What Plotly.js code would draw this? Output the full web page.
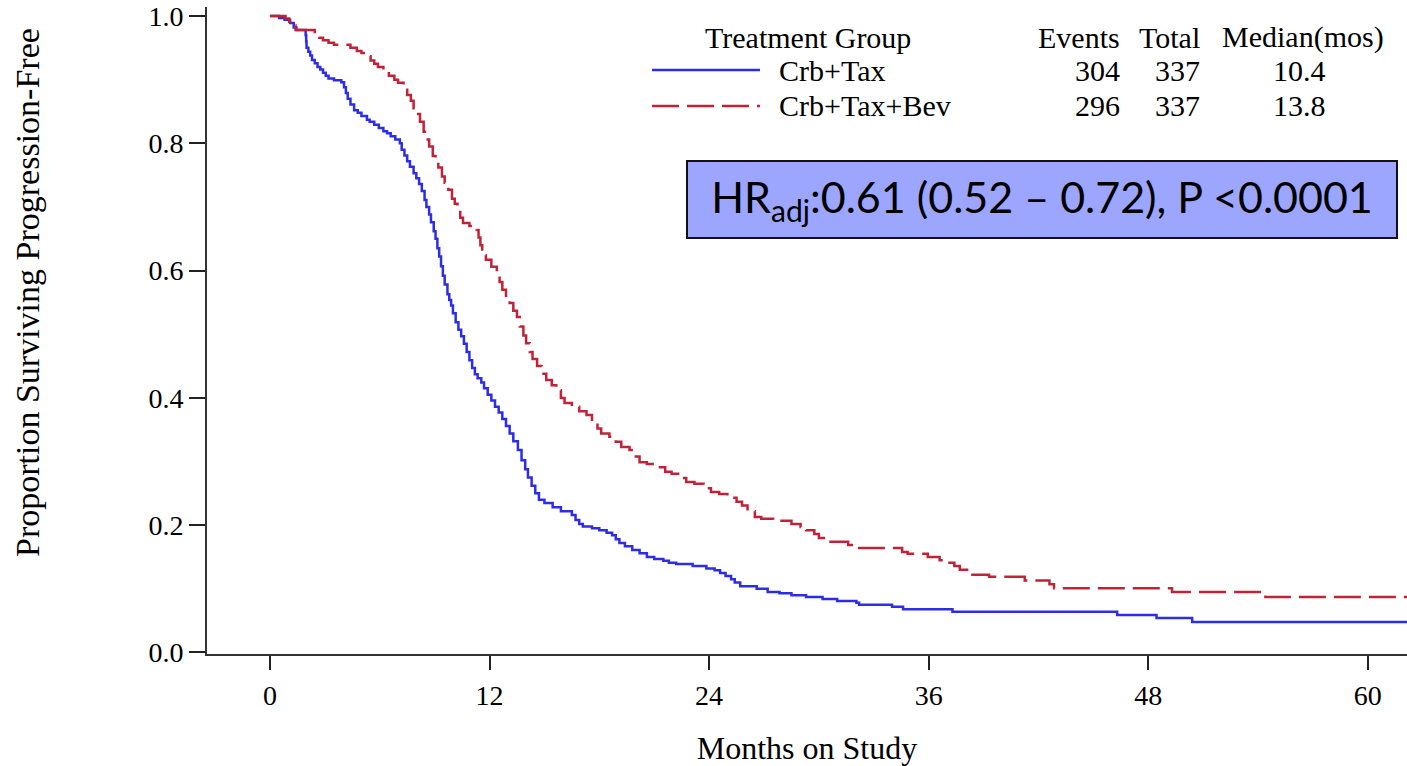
<!DOCTYPE html>
<html>
<head>
<meta charset="utf-8">
<script src="https://cdn.plot.ly/plotly-3.0.1.min.js"></script>
<style>html,body{margin:0;padding:0;background:#fff;}#chart{width:1407px;height:766px;}</style>
</head>
<body>
<div id="chart"></div>
<script>
// ---- Data ----
const groupNames = ["Crb+Tax", "Crb+Tax+Bev"];
const events = [304, 296];
const totals = [337, 337];
const medians = ["10.4", "13.8"];
const hrText = "HR<sub>adj</sub>:0.61 (0.52 \u2013 0.72), P <0.0001";
const xTitle = "Months on Study";
const yTitle = "Proportion Surviving Progression-Free";

const xTicks = [0, 12, 24, 36, 48, 60];
const yTicks = [0.0, 0.2, 0.4, 0.6, 0.8, 1.0];
const yTickLabels = ["0.0", "0.2", "0.4", "0.6", "0.8", "1.0"];

const tBlue = [0,0.5,0.8,1.1,1.3,1.45,1.95,1.98,2.0,2.1,2.2,2.3,2.45,2.6,2.75,2.9,3.05,3.2,3.5,3.9,4.05,4.15,4.25,4.4,4.6,4.8,5.0,5.3,5.45,5.7,5.95,6.2,6.4,6.6,6.85,7.1,7.2,7.35,7.5,7.65,7.85,8.0,8.15,8.3,8.45,8.55,8.7,8.8,8.95,9.05,9.15,9.25,9.35,9.45,9.55,9.7,9.8,9.9,10.0,10.15,10.3,10.45,10.6,10.75,10.9,11.05,11.2,11.35,11.55,11.7,11.9,12.1,12.3,12.5,12.7,12.9,13.1,13.3,13.55,13.75,13.95,14.1,14.3,14.5,14.7,15.0,15.45,15.9,16.5,16.7,16.9,17.1,17.6,18.0,18.4,18.7,18.9,19.1,19.4,19.8,20.2,20.6,21.0,21.5,21.8,22.2,23.1,23.85,24.3,24.6,24.9,25.2,25.4,25.7,26.6,27.2,27.85,28.5,29.3,30.2,31.0,32.05,32.2,34.0,34.6,37.3,46.3,48.45,50.4,63];
const sBlue = [1.0,0.997,0.994,0.989,0.982,0.978,0.970,0.960,0.950,0.944,0.938,0.931,0.926,0.920,0.916,0.911,0.906,0.902,0.899,0.896,0.888,0.879,0.870,0.861,0.852,0.848,0.843,0.837,0.834,0.829,0.824,0.819,0.816,0.811,0.806,0.800,0.790,0.781,0.772,0.763,0.753,0.745,0.736,0.725,0.711,0.700,0.688,0.676,0.662,0.650,0.635,0.622,0.607,0.592,0.578,0.563,0.554,0.545,0.533,0.519,0.507,0.497,0.485,0.472,0.459,0.447,0.437,0.431,0.424,0.415,0.405,0.396,0.386,0.377,0.367,0.356,0.344,0.332,0.318,0.302,0.288,0.275,0.262,0.250,0.240,0.235,0.228,0.222,0.216,0.208,0.202,0.198,0.195,0.192,0.188,0.184,0.178,0.172,0.167,0.161,0.156,0.150,0.147,0.144,0.141,0.139,0.136,0.132,0.129,0.125,0.120,0.115,0.110,0.104,0.100,0.095,0.093,0.090,0.087,0.084,0.081,0.078,0.075,0.072,0.068,0.064,0.059,0.054,0.048,0.048];

const tRed = [0,0.85,1.05,1.2,1.4,2.45,2.7,2.9,3.2,3.5,4.4,4.75,5.0,5.35,5.5,5.7,5.9,6.2,6.5,6.8,7.0,7.3,7.5,7.7,7.85,8.0,8.2,8.4,8.55,8.7,8.9,9.05,9.2,9.4,9.55,9.75,9.95,10.1,10.25,10.4,10.55,10.9,11.3,11.4,11.5,11.6,11.8,12.1,12.4,12.55,12.7,12.9,13.1,13.3,13.5,13.65,13.85,14.0,14.2,14.35,14.6,14.85,15.1,15.4,15.65,15.9,16.1,16.5,16.9,17.3,17.6,17.9,18.1,18.55,18.9,19.2,19.65,19.9,20.2,20.6,21.1,21.6,21.95,22.4,22.75,23.2,23.7,24.1,24.55,25.0,25.5,25.8,26.1,26.5,26.85,27.5,28.5,29.0,29.3,29.75,30.0,30.4,31.6,32.0,34.55,34.85,35.95,36.6,37.0,37.4,37.7,38.1,39.3,41.25,42.6,42.85,49.3,54.4,63];
const sRed = [1.0,0.996,0.991,0.985,0.978,0.972,0.966,0.962,0.958,0.955,0.950,0.945,0.942,0.937,0.930,0.925,0.920,0.913,0.906,0.900,0.895,0.884,0.876,0.867,0.855,0.846,0.834,0.818,0.806,0.795,0.780,0.772,0.762,0.748,0.738,0.727,0.713,0.705,0.695,0.683,0.675,0.670,0.664,0.652,0.640,0.624,0.617,0.606,0.593,0.582,0.570,0.556,0.549,0.537,0.527,0.512,0.498,0.486,0.472,0.461,0.450,0.438,0.428,0.420,0.412,0.400,0.392,0.386,0.379,0.373,0.362,0.352,0.344,0.339,0.331,0.323,0.318,0.308,0.299,0.296,0.291,0.284,0.281,0.274,0.268,0.265,0.258,0.252,0.249,0.243,0.237,0.231,0.222,0.213,0.210,0.207,0.202,0.197,0.192,0.186,0.180,0.174,0.169,0.164,0.158,0.155,0.150,0.145,0.141,0.136,0.130,0.122,0.119,0.113,0.107,0.101,0.095,0.087,0.087];

// ---- Styles ----
const blue = "rgb(45,45,230)";
const red = "rgb(192,35,55)";
const redDash = "27px,8px";
const serif = "Liberation Serif, Times New Roman, serif";

// ---- Layout geometry (pixels) ----
const W = 1407, H = 766;
const M = {l: 207, r: 0, t: 7, b: 112};
const PW = W - M.l - M.r, PH = H - M.t - M.b;
const px = X => (X - M.l) / PW;
const py = Y => (H - M.b - Y) / PH;

const traces = [
  {x: tBlue, y: sBlue, type: "scatter", mode: "lines", name: groupNames[0],
   line: {shape: "hv", color: blue, width: 2.5}, showlegend: false, hoverinfo: "x+y"},
  {x: tRed, y: sRed, type: "scatter", mode: "lines", name: groupNames[1],
   line: {shape: "hv", color: red, width: 2.5, dash: redDash}, showlegend: false, hoverinfo: "x+y"}
];

const legFont = {family: serif, size: 30, color: "#000"};
const rowsY = [70, 106];
const annotations = [
  {text: "Treatment Group", x: px(808), y: py(37), xanchor: "center"},
  {text: "Events", x: px(1122), y: py(37), xanchor: "right"},
  {text: "Total", x: px(1202), y: py(37), xanchor: "right"},
  {text: "Median(mos)", x: px(1303), y: py(37), xanchor: "center"}
];
groupNames.forEach((g, i) => {
  annotations.push({text: g, x: px(777), y: py(rowsY[i]), xanchor: "left"});
  annotations.push({text: String(events[i]), x: px(1122), y: py(rowsY[i]), xanchor: "right"});
  annotations.push({text: String(totals[i]), x: px(1202), y: py(rowsY[i]), xanchor: "right"});
  annotations.push({text: medians[i], x: px(1299), y: py(rowsY[i]), xanchor: "center"});
});
annotations.forEach(a => { a.xref = "paper"; a.yref = "paper"; a.yanchor = "middle"; a.showarrow = false; a.font = legFont; });

// y-axis title (placed as rotated text to match the reference position)
annotations.push({
  text: yTitle, xref: "paper", yref: "paper", x: px(28), y: py(293),
  xanchor: "center", yanchor: "middle", textangle: -90, showarrow: false,
  font: {family: serif, size: 34, color: "#000"}
});

annotations.push({
  text: hrText, xref: "paper", yref: "paper", x: px(1042), y: py(199.5),
  xanchor: "center", yanchor: "middle", showarrow: false,
  font: {family: "Lato, Carlito, Calibri, sans-serif", size: 43, color: "#000"},
  bgcolor: "#9ca6fe", bordercolor: "#111", borderwidth: 2, borderpad: 0,
  width: 708, height: 75, align: "center", valign: "middle"
});

const shapes = [
  {type: "line", xref: "paper", yref: "paper", x0: px(652), x1: px(760), y0: py(rowsY[0]), y1: py(rowsY[0]),
   line: {color: blue, width: 2.5}},
  {type: "line", xref: "paper", yref: "paper", x0: px(652), x1: px(760), y0: py(rowsY[1]), y1: py(rowsY[1]),
   line: {color: red, width: 2.5, dash: redDash}}
];

const layout = {
  width: W, height: H,
  margin: M,
  paper_bgcolor: "#fff", plot_bgcolor: "#fff",
  showlegend: false,
  xaxis: {
    range: [-3.44, 62.14], tickvals: xTicks, ticktext: xTicks.map(String),
    showgrid: false, zeroline: false, showline: true, linecolor: "#333", linewidth: 2,
    ticks: "outside", ticklen: 14, tickwidth: 2, tickcolor: "#222",
    ticklabelstandoff: 1,
    tickfont: {family: serif, size: 28, color: "#000"},
    title: {text: xTitle, font: {family: serif, size: 32, color: "#000"}, standoff: 36},
    automargin: false
  },
  yaxis: {
    range: [-0.0024, 1.0142], tickvals: yTicks, ticktext: yTickLabels,
    showgrid: false, zeroline: false, showline: true, linecolor: "#333", linewidth: 2,
    ticks: "outside", ticklen: 16, tickwidth: 2, tickcolor: "#222",
    ticklabelstandoff: 0,
    tickfont: {family: serif, size: 28, color: "#000"},
    automargin: false
  },
  annotations: annotations,
  shapes: shapes
};

Plotly.newPlot("chart", traces, layout, {displayModeBar: false, staticPlot: true});
</script>
</body>
</html>
